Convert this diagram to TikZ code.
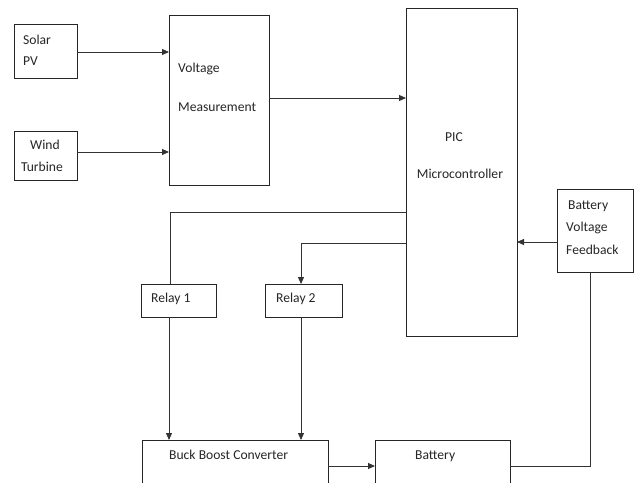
\documentclass[tikz,border=0pt]{standalone}
\usepackage{fontspec}
\setmainfont{Carlito}
\usetikzlibrary{arrows.meta}
\begin{document}
\begin{tikzpicture}[x=1pt,y=-1pt,
  blk/.style={draw=black!85,line width=0.8pt,inner sep=0pt,outer sep=0pt},
  conn/.style={draw=black!80,line width=0.9pt},
  arr/.style={conn,-{Triangle[length=7pt,width=6pt]}},
  txt/.style={font=\fontsize{13.6}{16}\selectfont,inner sep=0pt,text=black!85}]
\useasboundingbox (0,0) rectangle (634,482);
\clip (0,0) rectangle (634,482);
% boxes
\node[blk,minimum width=63,minimum height=54] (solar) at (45.5,51) {};
\node[blk,minimum width=63,minimum height=49] (wind) at (45.5,155.5) {};
\node[blk,minimum width=100,minimum height=170] (vm) at (219,100) {};
\node[blk,minimum width=111,minimum height=328] (pic) at (461.5,172) {};
\node[blk,minimum width=76,minimum height=83] (bvf) at (595,230.5) {};
\node[blk,minimum width=75,minimum height=33] (relay1) at (178.5,300.5) {};
\node[blk,minimum width=77,minimum height=33] (relay2) at (303.5,300.5) {};
\node[blk,minimum width=186,minimum height=70] (bb) at (235,475) {};
\node[blk,minimum width=135,minimum height=70] (bat) at (442.5,475) {};
% texts
\node[txt,anchor=mid west] (t1) at (23,42) {Solar};
\node[txt,anchor=mid west] (t2) at (23,63) {PV};
\node[txt,anchor=mid] (t3) at (45,147) {Wind};
\node[txt,anchor=mid] (t4) at (42,169) {Turbine};
\node[txt,anchor=mid west] (t5) at (178,70) {Voltage};
\node[txt,anchor=mid west] (t6) at (178,109) {Measurement};
\node[txt,anchor=mid] (t7) at (454,139) {PIC};
\node[txt,anchor=mid] (t8) at (460,176) {Microcontroller};
\node[txt,anchor=mid west] (t9) at (568,207) {Battery};
\node[txt,anchor=mid west] (t10) at (566,229) {Voltage};
\node[txt,anchor=mid west] (t11) at (566,252) {Feedback};
\node[txt,anchor=mid west] (t12) at (151,300) {Relay 1};
\node[txt,anchor=mid west] (t13) at (276,300) {Relay 2};
\node[txt,anchor=mid west] (t14) at (169,457) {Buck Boost Converter};
\node[txt,anchor=mid west] (t15) at (415,457) {Battery};
% connectors
\draw[arr] (solar.east |- 0,52) -- (vm.west |- 0,52);
\draw[arr] (wind.east |- 0,152) -- (vm.west |- 0,152);
\draw[arr] (vm.east |- 0,98) -- (pic.west |- 0,98);
\draw[conn] (pic.west |- 0,212) -| (relay1.north -| 170,0);
\draw[arr] (pic.west |- 0,243) -| (relay2.north -| 301,0);
\draw[arr] (relay1.south -| 169,0) -- (bb.north -| 169,0);
\draw[arr] (relay2.south -| 301,0) -- (bb.north -| 301,0);
\draw[arr] (bvf.west |- 0,242) -- (pic.east |- 0,242);
\draw[arr] (bb.east |- 0,466) -- (bat.west |- 0,466);
\draw[conn] (bat.east |- 0,466) -| (bvf.south -| 590,0);
\end{tikzpicture}
\end{document}
